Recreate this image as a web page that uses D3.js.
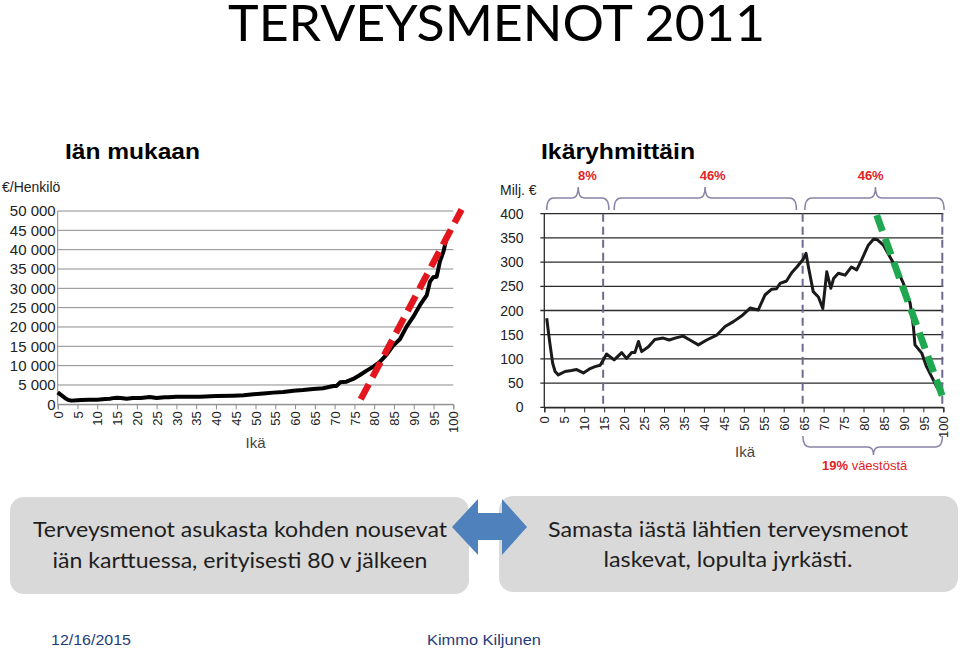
<!DOCTYPE html>
<html><head><meta charset="utf-8">
<script src="https://cdn.jsdelivr.net/npm/d3@7"></script>
<style>
html,body{margin:0;padding:0;background:#fff;}
svg{display:block;}
</style>
</head><body>
<svg id="chart" width="960" height="654"></svg>
<script>
// ---------- DATA ----------
const leftAges   = [0,0.5,1.4,2,2.7,3.5,5,6,8,10,12,13.2,14,15,16,17.4,19,21,23.3,25,27,28,30,33,36,40,44.4,47,49.5,52,54.5,57,59.6,62,64.6,67.1,69.7,70.5,71.4,73,74.7,76.4,78.1,79.8,81.5,83.2,84.8,86.5,88.2,89.9,91.6,93.3,94.1,94.9,95.8,96.6,97.5,98.1];
const leftValues = [3100,2700,1980,1500,1120,950,1050,1120,1150,1200,1350,1460,1600,1720,1650,1460,1600,1650,1900,1640,1850,1800,1980,1950,1980,2150,2240,2350,2590,2800,3020,3200,3530,3700,3970,4140,4740,4740,5690,5860,6550,7590,8710,9740,11030,12930,15170,16810,20080,22670,25690,28270,31720,32840,33010,36890,39480,42070];
const leftTrendAges   = [76.6,102.1];
const leftTrendValues = [1300,50400];
const leftYTicks = [0,5000,10000,15000,20000,25000,30000,35000,40000,45000,50000];

const rightAges   = [0.6,1.4,2.1,2.7,3.5,5.2,6.8,8.1,9.8,11.5,12.7,14,14.8,15.6,17.5,19.4,20.6,21.9,22.7,23.6,24.4,26.1,27.7,29.8,31.3,33.2,34.8,36.5,38.6,40.7,43.2,45.3,47.4,49.5,51.6,53.6,55.3,57,58.2,59.1,60.7,62,63.3,64.9,65.6,66.2,67.4,68.7,69.8,70.8,71.8,72.5,73.7,75.4,77,78.3,79.5,81.2,82.5,83.5,85,86.6,88.3,90,91.7,92.5,92.9,94.6,95.8,97.1,98.3,99.6];
const rightValues = [184,132,91,74,67,74,76,78,71,80,84,87,98,110,98,113,101,113,113,136,115,125,140,143,139,144,147,139,129,139,149,167,177,189,205,201,232,244,245,256,261,278,290,306,318,290,239,228,204,280,246,266,277,273,290,284,304,335,347,346,335,311,287,256,215,167,129,112,84,63,43,29];
const rightTrendAges   = [83.3,99.8];
const rightTrendValues = [397,22];
const rightYTicks = [0,50,100,150,200,250,300,350,400];
const groupDividers = [15,65,100];

const xTicks = d3.range(0,101,5);

const braceStarts = [0.6,17.5,65.3];
const braceEnds   = [16.2,63.2,100.2];
const braceApex   = [8.5,40.3,83];
const braceLabelAges = [10.8,42.2,81.8];
const braceLabels = ["8%","46%","46%"];
const bottomBrace = [64.8,99.8,82.5];
const bottomLabelBold = "19%";
const bottomLabelRest = " väestöstä";

const titleText = "TERVEYSMENOT 2011";
const leftSubtitle = "Iän mukaan";
const rightSubtitle = "Ikäryhmittäin";
const leftBoxLines = ["Terveysmenot asukasta kohden nousevat","iän karttuessa, erityisesti 80 v jälkeen"];
const rightBoxLines = ["Samasta iästä lähtien terveysmenot","laskevat, lopulta jyrkästi."];
const footerDate = "12/16/2015";
const footerAuthor = "Kimmo Kiljunen";

// ---------- DRAW ----------
const svg = d3.select("#chart");
const narrow = "'Liberation Sans Narrow','Arial Narrow','Liberation Sans',Arial,sans-serif";
const sans = "'Liberation Sans',Arial,sans-serif";
const calib = "Lato,'Open Sans',sans-serif";

svg.append("rect").attr("width",960).attr("height",654).attr("fill","#fff");

// Title
svg.append("text").attr("x",228).attr("y",41).attr("font-family",calib)
  .attr("font-size",51).attr("fill","#000").attr("textLength",537)
  .attr("lengthAdjust","spacingAndGlyphs").text(titleText);

svg.append("text").attr("x",65).attr("y",159).attr("font-family",narrow).attr("font-weight","bold")
  .attr("font-size",22).attr("textLength",135).attr("lengthAdjust","spacingAndGlyphs").text(leftSubtitle);
svg.append("text").attr("x",541).attr("y",159).attr("font-family",narrow).attr("font-weight","bold")
  .attr("font-size",22).attr("textLength",154).attr("lengthAdjust","spacingAndGlyphs").text(rightSubtitle);

// ---------- LEFT CHART ----------
const lx = d3.scaleLinear().domain([0,100]).range([57.7,453.3]);
const ly = d3.scaleLinear().domain([0,50000]).range([404.3,211]);
const L = svg.append("g");

L.append("g").selectAll("line").data(leftYTicks).join("line")
  .attr("x1",lx(0)).attr("x2",lx(100)).attr("y1",d=>ly(d)).attr("y2",d=>ly(d))
  .attr("stroke","#8c8c8c").attr("stroke-width",1);
L.append("line").attr("x1",lx(0)).attr("x2",lx(0)).attr("y1",ly(50000)).attr("y2",ly(0)).attr("stroke","#8c8c8c");

const fmtSpace = v => d3.format(",")(v).replace(/,/g," ");
L.append("g").selectAll("text").data(leftYTicks).join("text")
  .attr("x",lx(0)-2).attr("y",d=>ly(d)).attr("dy","0.36em").attr("text-anchor","end")
  .attr("font-family",sans).attr("font-size",15).attr("fill","#222").text(fmtSpace);

const lxAxis = L.append("g").attr("transform",`translate(0,${ly(0)})`)
  .call(d3.axisBottom(lx).tickValues(xTicks).tickSize(5).tickFormat(d=>d));
lxAxis.select(".domain").attr("stroke","#8c8c8c");
lxAxis.selectAll(".tick line").attr("stroke","#8c8c8c");
lxAxis.selectAll("text").attr("transform","rotate(-90)").attr("text-anchor","end")
  .attr("x",-7).attr("y",0).attr("dy","0.36em").attr("font-family",sans).attr("font-size",13).attr("fill","#222");

L.append("text").attr("x",2).attr("y",192).attr("font-family",sans).attr("font-size",14).attr("fill","#222").text("€/Henkilö");
L.append("text").attr("x",lx(50)).attr("y",448).attr("text-anchor","middle").attr("font-family",sans).attr("font-size",15).attr("fill","#444").text("Ikä");

const leftLine = d3.line().x(d=>lx(d[0])).y(d=>ly(d[1]));
L.append("path").datum(d3.zip(leftAges,leftValues)).attr("d",leftLine)
  .attr("fill","none").attr("stroke","#000").attr("stroke-width",4).attr("stroke-linejoin","round");
L.append("path").datum(d3.zip(leftTrendAges,leftTrendValues)).attr("d",leftLine)
  .attr("fill","none").attr("stroke","#e3161d").attr("stroke-width",6.5).attr("stroke-dasharray","17,8");

// ---------- RIGHT CHART ----------
const rx = d3.scaleLinear().domain([0,100]).range([544.3,943.3]);
const ry = d3.scaleLinear().domain([0,400]).range([407.3,213.7]);
const R = svg.append("g");

R.append("g").selectAll("line").data(rightYTicks).join("line")
  .attr("x1",rx(0)-4).attr("x2",rx(100)).attr("y1",d=>ry(d)).attr("y2",d=>ry(d))
  .attr("stroke","#2a2a2a").attr("stroke-width",1.3);
R.append("line").attr("x1",rx(0)).attr("x2",rx(0)).attr("y1",ry(400)).attr("y2",ry(0)).attr("stroke","#2a2a2a").attr("stroke-width",1.3);

R.append("g").selectAll("text").data(rightYTicks).join("text")
  .attr("x",523.5).attr("y",d=>ry(d)).attr("dy","0.36em").attr("text-anchor","end")
  .attr("font-family",sans).attr("font-size",14).attr("fill","#222").text(d=>d);

const rxAxis = R.append("g").attr("transform",`translate(0,${ry(0)})`)
  .call(d3.axisBottom(rx).tickValues(xTicks).tickSize(5).tickFormat(d=>d));
rxAxis.select(".domain").attr("stroke","#2a2a2a").attr("stroke-width",1.3);
rxAxis.selectAll(".tick line").attr("stroke","#2a2a2a");
rxAxis.selectAll("text").attr("transform","rotate(-90)").attr("text-anchor","end")
  .attr("x",-9).attr("y",0).attr("dy","0.36em").attr("font-family",sans).attr("font-size",13).attr("fill","#222");

R.append("text").attr("x",500).attr("y",195).attr("font-family",sans).attr("font-size",14).attr("fill","#222").text("Milj. €");
R.append("text").attr("x",745).attr("y",457).attr("text-anchor","middle").attr("font-family",sans).attr("font-size",15).attr("fill","#444").text("Ikä");

// dividers
R.append("g").selectAll("line").data(groupDividers).join("line")
  .attr("x1",d=>rx(d)-1).attr("x2",d=>rx(d)-1).attr("y1",ry(400)).attr("y2",ry(0))
  .attr("stroke","#6f6a90").attr("stroke-width",2).attr("stroke-dasharray","8,5");

const rightLine = d3.line().x(d=>rx(d[0])).y(d=>ry(d[1]));
R.append("path").datum(d3.zip(rightAges,rightValues)).attr("d",rightLine)
  .attr("fill","none").attr("stroke","#1a1a1a").attr("stroke-width",3).attr("stroke-linejoin","round");
R.append("path").datum(d3.zip(rightTrendAges,rightTrendValues)).attr("d",rightLine)
  .attr("fill","none").attr("stroke","#1fa84f").attr("stroke-width",7).attr("stroke-dasharray","17,8");

// braces
function bracePath(x1,x2,xa,yLine,yTip,yApex){
  const s = Math.sign(yTip-yLine);
  return `M${x1},${yTip} Q${x1},${yLine} ${x1+7},${yLine} L${xa-6},${yLine} Q${xa},${yLine} ${xa},${yApex}`+
         ` Q${xa},${yLine} ${xa+6},${yLine} L${x2-7},${yLine} Q${x2},${yLine} ${x2},${yTip}`;
}
const braceG = R.append("g");
braceG.selectAll("path").data(d3.range(braceStarts.length)).join("path")
  .attr("d",i=>bracePath(rx(braceStarts[i]),rx(braceEnds[i]),rx(braceApex[i]),198,210,187))
  .attr("fill","none").attr("stroke","#8884a8").attr("stroke-width",1.5);
braceG.selectAll("text").data(d3.range(braceLabels.length)).join("text")
  .attr("x",i=>rx(braceLabelAges[i])).attr("y",180).attr("text-anchor","middle")
  .attr("font-family",sans).attr("font-weight","bold").attr("font-size",13).attr("fill","#e02424")
  .text(i=>braceLabels[i]);
braceG.append("path")
  .attr("d",bracePath(rx(bottomBrace[0]),rx(bottomBrace[1]),rx(bottomBrace[2]),447,436,455))
  .attr("fill","none").attr("stroke","#8884a8").attr("stroke-width",1.5);
const bt = braceG.append("text").attr("x",822).attr("y",470).attr("font-family",sans).attr("font-size",13).attr("fill","#e02424");
bt.append("tspan").attr("font-weight","bold").text(bottomLabelBold);
bt.append("tspan").text(bottomLabelRest);

// ---------- BOXES ----------
svg.append("rect").attr("x",10).attr("y",497).attr("width",459).attr("height",97).attr("rx",14).attr("fill","#d9d9d9");
svg.append("rect").attr("x",499).attr("y",496).attr("width",459).attr("height",96).attr("rx",14).attr("fill","#d9d9d9");
svg.append("path").attr("d","M452,527 L478,499 L478,513 L502,513 L502,499 L527,527 L502,555 L502,540 L478,540 L478,555 Z")
  .attr("fill","#4f81bd");

const boxText = (lines, cx, ys, lens) => {
  lines.forEach((t,i)=>{
    svg.append("text").attr("x",cx).attr("y",ys[i]).attr("text-anchor","middle")
      .attr("font-family",calib).attr("font-size",21).attr("fill","#1e1e1e")
      .attr("textLength",lens[i]).attr("lengthAdjust","spacingAndGlyphs").text(t);
  });
};
boxText(leftBoxLines, 240, [537,568], [414,375]);
boxText(rightBoxLines, 728, [537,567], [360,249]);

// footer
svg.append("text").attr("x",51).attr("y",645).attr("font-family",narrow).attr("font-size",15)
  .attr("fill","#1f3b7a").attr("textLength",80).attr("lengthAdjust","spacingAndGlyphs").text(footerDate);
svg.append("text").attr("x",427).attr("y",645).attr("font-family",narrow).attr("font-size",15)
  .attr("fill","#1f3b7a").attr("textLength",114).attr("lengthAdjust","spacingAndGlyphs").text(footerAuthor);
</script>
</body></html>
